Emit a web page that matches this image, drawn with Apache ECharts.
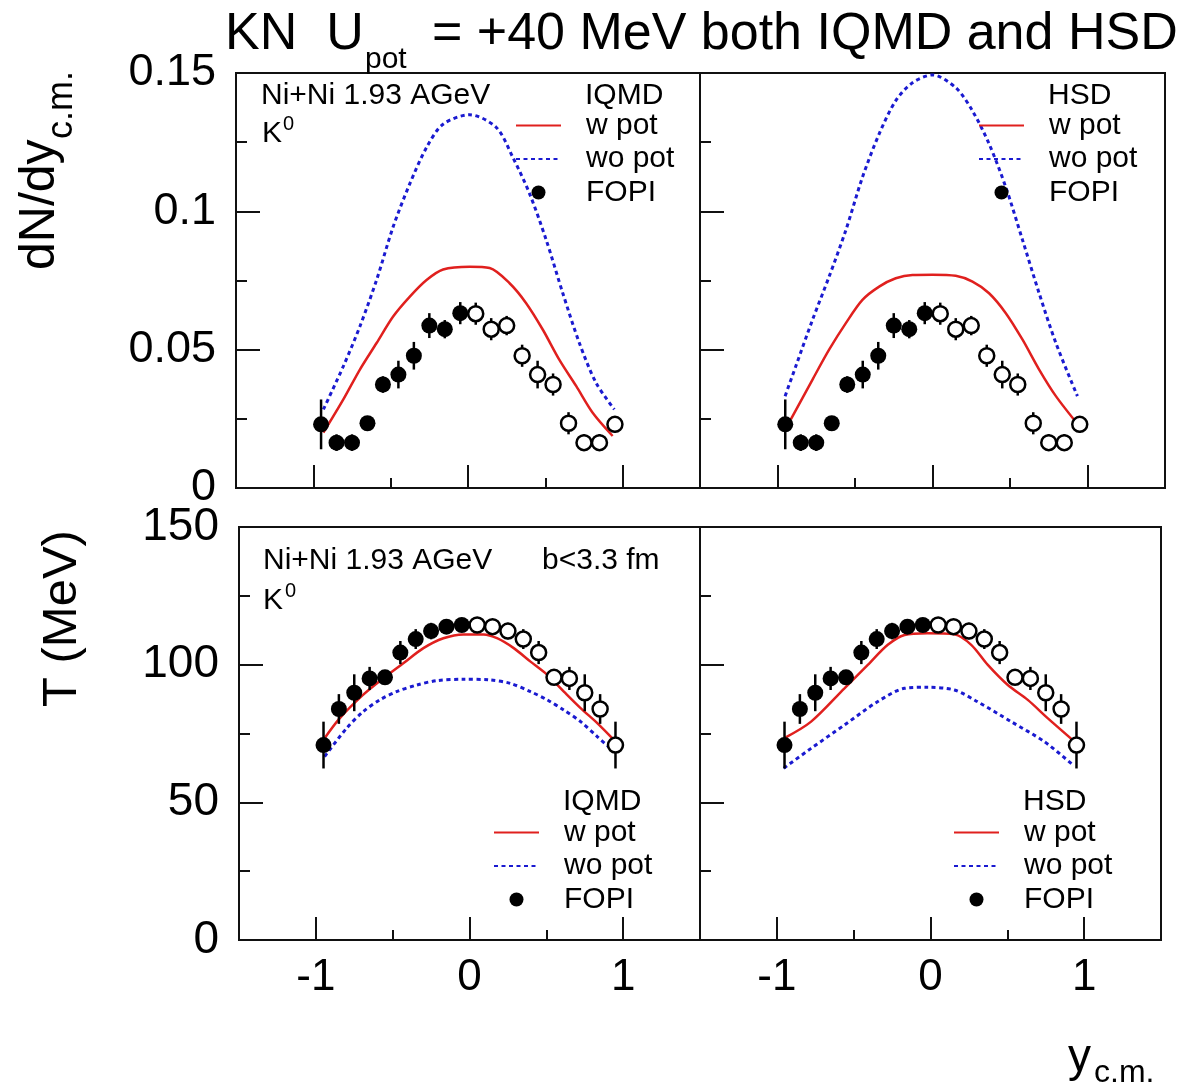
<!DOCTYPE html>
<html>
<head>
    <meta charset="utf-8" />
    <title>KN Upot +40 MeV</title>
    <script src="https://cdn.jsdelivr.net/npm/echarts@6/dist/echarts.min.js"></script>
    <style>
        html, body { margin: 0; padding: 0; background: #fff; }
    </style>
</head>
<body>
    <div id="main" style="width: 1196px;height:1088px;"></div>
    <script>
        // FOPI K0 points (reflected points are the open ones)
        var rapidity = [-0.95, -0.85, -0.75, -0.65, -0.55, -0.45, -0.35, -0.25, -0.15, -0.05,
                        0.05, 0.15, 0.25, 0.35, 0.45, 0.55, 0.65, 0.75, 0.85, 0.95];
        var fopiDndy = [0.0230, 0.0164, 0.0164, 0.0234, 0.0374, 0.0410, 0.0478, 0.0587, 0.0574, 0.0632,
                        0.0630, 0.0574, 0.0587, 0.0478, 0.0410, 0.0374, 0.0234, 0.0164, 0.0164, 0.0230];
        var fopiDndyErr = [0.009, 0.003, 0.003, 0.002, 0.003, 0.005, 0.005, 0.0045, 0.0033, 0.004,
                           0.004, 0.004, 0.0035, 0.004, 0.005, 0.004, 0.004, 0.003, 0.003, 0.003];
        var fopiT = [70.8, 83.9, 89.8, 95.0, 95.4, 104.4, 109.3, 112.2, 113.8, 114.4,
                     114.4, 113.8, 112.2, 109.3, 104.4, 95.4, 95.0, 89.8, 83.9, 70.8];
        var fopiTErr = [8.5, 5.4, 6.7, 4.2, 2, 4.2, 3.6, 3, 2, 2,
                        2, 2, 3, 3.6, 4.2, 2, 4.2, 6.7, 5.4, 8.5];
        var nMeasured = 10; // first 10 are measured (filled), rest reflected (open)

        // model curves [y_cm, value]
        var iqmdDndyW = [[-0.935, 0.020], [-0.806, 0.032], [-0.699, 0.0428], [-0.591, 0.0524], [-0.484, 0.062],
            [-0.376, 0.0692], [-0.268, 0.0752], [-0.161, 0.079], [0.011, 0.080], [0.14, 0.0795], [0.269, 0.074],
            [0.376, 0.0668], [0.484, 0.0572], [0.59, 0.0464], [0.70, 0.0368], [0.806, 0.0272], [0.935, 0.0188]];
        var iqmdDndyWo = [[-0.935, 0.0284], [-0.806, 0.044], [-0.699, 0.0584], [-0.591, 0.0752], [-0.484, 0.0944],
            [-0.376, 0.110], [-0.268, 0.1231], [-0.161, 0.1315], [0.011, 0.1349], [0.183, 0.1303], [0.29, 0.1195],
            [0.398, 0.1064], [0.506, 0.0896], [0.613, 0.0704], [0.72, 0.0524], [0.828, 0.038], [0.946, 0.0284]];
        var hsdDndyW = [[-0.914, 0.0248], [-0.774, 0.0392], [-0.667, 0.050], [-0.559, 0.0596], [-0.452, 0.068],
            [-0.344, 0.0728], [-0.237, 0.0758], [-0.129, 0.077], [0, 0.0771], [0.15, 0.0767], [0.258, 0.0746],
            [0.365, 0.0704], [0.473, 0.0632], [0.581, 0.0536], [0.688, 0.0428], [0.796, 0.0332], [0.946, 0.0224]];
        var hsdDndyWo = [[-0.951, 0.0332], [-0.882, 0.044], [-0.774, 0.0608], [-0.667, 0.0764], [-0.559, 0.0932],
            [-0.452, 0.1123], [-0.344, 0.128], [-0.237, 0.140], [-0.129, 0.1465], [0, 0.1493], [0.15, 0.1447],
            [0.258, 0.1363], [0.365, 0.1244], [0.473, 0.1087], [0.581, 0.0896], [0.688, 0.0704], [0.796, 0.0524],
            [0.935, 0.0332]];
        var iqmdTW = [[-0.943, 73.3], [-0.845, 80.5], [-0.693, 89.0], [-0.562, 95.0], [-0.431, 100.5], [-0.30, 106.0],
            [-0.17, 109.6], [-0.04, 111.0], [0.092, 111.0], [0.179, 109.6], [0.288, 106.0], [0.397, 101.1],
            [0.506, 96.3], [0.614, 90.2], [0.723, 84.2], [0.833, 78.7], [0.941, 72.6]];
        var iqmdTWo = [[-0.943, 66.6], [-0.80, 76.9], [-0.693, 82.9], [-0.584, 87.2], [-0.475, 90.2], [-0.344, 92.6],
            [-0.213, 94.2], [-0.04, 94.7], [0.128, 94.5], [0.266, 93.2], [0.397, 90.2], [0.506, 87.2],
            [0.614, 83.5], [0.723, 79.3], [0.833, 73.8], [0.941, 68.4]];
        var hsdTW = [[-0.951, 73.3], [-0.777, 79.3], [-0.56, 91.4], [-0.408, 99.9], [-0.278, 107.2], [-0.169, 110.8],
            [-0.02, 111.4], [0.156, 111.0], [0.265, 107.2], [0.373, 99.9], [0.503, 92.6], [0.633, 87.2],
            [0.764, 80.5], [0.926, 72.6]];
        var hsdTWo = [[-0.955, 62.4], [-0.777, 69.6], [-0.56, 78.1], [-0.343, 86.6], [-0.169, 91.4], [-0.02, 91.8],
            [0.156, 90.8], [0.304, 86.6], [0.525, 79.3], [0.742, 72.0], [0.926, 63.6]];

        var xMajorTicks = [-1, 0, 1];
        var xMinorTicks = [-0.5, 0.5];

        var FONT = 'Liberation Sans, Arial, sans-serif';
        var RED = '#e0201e';
        var BLUE = '#1a1ad0';

        var grids = [
            { left: 236, top: 73, width: 464, height: 415 },
            { left: 700, top: 73, width: 465, height: 415 },
            { left: 239, top: 527, width: 461, height: 413 },
            { left: 700, top: 527, width: 461, height: 413 }
        ];
        grids.forEach(function (g) {
            g.show = true;
            g.borderColor = '#111';
            g.borderWidth = 2;
        });

        var xAxes = [], yAxes = [];
        for (var g = 0; g < 4; g++) {
            var bottomRow = g >= 2;
            xAxes.push({
                gridIndex: g, type: 'value', min: -1.5, max: 1.5, position: 'bottom',
                axisLine: { show: true, onZero: false, lineStyle: { color: '#111', width: 2 } },
                axisTick: { show: true, inside: true, length: 23, customValues: xMajorTicks,
                    lineStyle: { color: '#111', width: 2 } },
                axisLabel: { show: bottomRow, customValues: xMajorTicks, fontSize: 44, color: '#000',
                    fontFamily: FONT, margin: 16 },
                splitLine: { show: false }
            });
            xAxes.push({
                gridIndex: g, type: 'value', min: -1.5, max: 1.5, position: 'bottom', offset: 0,
                axisLine: { show: false, onZero: false },
                axisTick: { show: true, inside: true, length: 10, customValues: xMinorTicks,
                    lineStyle: { color: '#111', width: 2 } },
                axisLabel: { show: false },
                splitLine: { show: false }
            });
            var leftCol = (g % 2 === 0);
            yAxes.push({
                gridIndex: g, type: 'value', min: 0, position: 'left',
                max: bottomRow ? 150 : 0.15,
                interval: bottomRow ? 50 : 0.05,
                axisLine: { show: true, onZero: false, lineStyle: { color: '#111', width: 2 } },
                axisTick: { show: true, inside: true, length: 24, lineStyle: { color: '#111', width: 2 } },
                minorTick: { show: true, splitNumber: 2, length: 11, lineStyle: { color: '#111', width: 2 } },
                axisLabel: { show: leftCol, fontSize: bottomRow ? 46 : 45, color: '#000',
                    fontFamily: FONT, margin: 20 },
                splitLine: { show: false }
            });
        }

        function points(vals, from, to) {
            var out = [];
            for (var i = from; i < to; i++) out.push([rapidity[i], vals[i]]);
            return out;
        }
        function errPoints(vals, errs) {
            return rapidity.map(function (x, i) { return [x, vals[i], errs[i]]; });
        }
        function renderErr(params, api) {
            var x = api.value(0), y = api.value(1), e = api.value(2);
            var p1 = api.coord([x, y - e]);
            var p2 = api.coord([x, y + e]);
            return {
                type: 'line',
                shape: { x1: p1[0], y1: p1[1], x2: p2[0], y2: p2[1] },
                style: { stroke: '#000', lineWidth: 2.5 }
            };
        }

        var panels = [
            { w: iqmdDndyW, wo: iqmdDndyWo, vals: fopiDndy, errs: fopiDndyErr },
            { w: hsdDndyW, wo: hsdDndyWo, vals: fopiDndy, errs: fopiDndyErr },
            { w: iqmdTW, wo: iqmdTWo, vals: fopiT, errs: fopiTErr },
            { w: hsdTW, wo: hsdTWo, vals: fopiT, errs: fopiTErr }
        ];

        var series = [];
        panels.forEach(function (p, g) {
            var axes = { xAxisIndex: 2 * g, yAxisIndex: g };
            series.push(Object.assign({
                name: 'w pot', type: 'line', data: p.w, smooth: 0.3, symbol: 'none', z: 2,
                lineStyle: { color: RED, width: 2.5 }, itemStyle: { color: RED }
            }, axes));
            series.push(Object.assign({
                name: 'wo pot', type: 'line', data: p.wo, smooth: 0.3, symbol: 'none', z: 2,
                lineStyle: { color: BLUE, width: 3, type: [4, 3.5] }, itemStyle: { color: BLUE }
            }, axes));
            series.push(Object.assign({
                name: 'err', type: 'custom', renderItem: renderErr, z: 3,
                encode: { x: 0, y: 1 }, data: errPoints(p.vals, p.errs)
            }, axes));
            series.push(Object.assign({
                name: 'FOPI', type: 'scatter', data: points(p.vals, 0, nMeasured), z: 4,
                symbol: 'circle', symbolSize: 16, itemStyle: { color: '#000', opacity: 1 }
            }, axes));
            series.push(Object.assign({
                name: 'FOPI reflected', type: 'scatter', data: points(p.vals, nMeasured, rapidity.length), z: 4,
                symbol: 'circle', symbolSize: 15,
                itemStyle: { color: '#fff', borderColor: '#000', borderWidth: 2.5, opacity: 1 }
            }, axes));
        });

        function legendAt(left, top) {
            return {
                data: [
                    { name: 'w pot', itemStyle: { opacity: 0 } },
                    { name: 'wo pot', itemStyle: { opacity: 0 } },
                    'FOPI'
                ],
                orient: 'vertical', left: left, top: top,
                itemWidth: 45, itemHeight: 14, itemGap: 0.5, selectedMode: false, padding: 0,
                textStyle: { fontSize: 30, lineHeight: 33, color: '#000', fontFamily: FONT,
                    padding: [0, 0, 0, 20] }
            };
        }

        function txt(x, y, text, size, extra) {
            var st = { text: text, x: 0, y: 0, fill: '#000', font: size + 'px ' + FONT,
                textAlign: 'left', textVerticalAlign: 'middle' };
            var el = { type: 'text', x: x, y: y, style: st, z: 10 };
            if (extra) Object.assign(el, extra);
            return el;
        }
        var ROT = { rotation: Math.PI / 2 };

        var graphics = [
            txt(225, 35, 'KN  U', 52),
            txt(365, 60, 'pot', 30),
            txt(432, 35, '= +40 MeV both IQMD and HSD', 52),
            txt(261, 96, 'Ni+Ni 1.93 AGeV', 30),
            txt(262, 134, 'K', 30),
            txt(283, 124, '0', 20),
            txt(585, 96, 'IQMD', 30),
            txt(1048, 96, 'HSD', 30),
            txt(263, 561, 'Ni+Ni 1.93 AGeV', 30),
            txt(542, 561, 'b<3.3 fm', 30),
            txt(263, 601, 'K', 30),
            txt(285, 591, '0', 20),
            txt(563, 802, 'IQMD', 30),
            txt(1023, 802, 'HSD', 30),
            txt(40, 270, 'dN/dy', 50, ROT),
            txt(62, 139, 'c.m.', 36, ROT),
            txt(62, 707, 'T (MeV)', 49, ROT),
            txt(1068, 1058, 'y', 46),
            txt(1094, 1073, 'c.m.', 32)
        ];

        var myChart = echarts.init(document.getElementById('main'));
        myChart.setOption({
            backgroundColor: '#fff',
            animation: false,
            grid: grids,
            xAxis: xAxes,
            yAxis: yAxes,
            legend: [legendAt(515, 109), legendAt(978, 109), legendAt(493, 816), legendAt(953, 816)],
            graphic: graphics,
            series: series
        });
    </script>
</body>
</html>
